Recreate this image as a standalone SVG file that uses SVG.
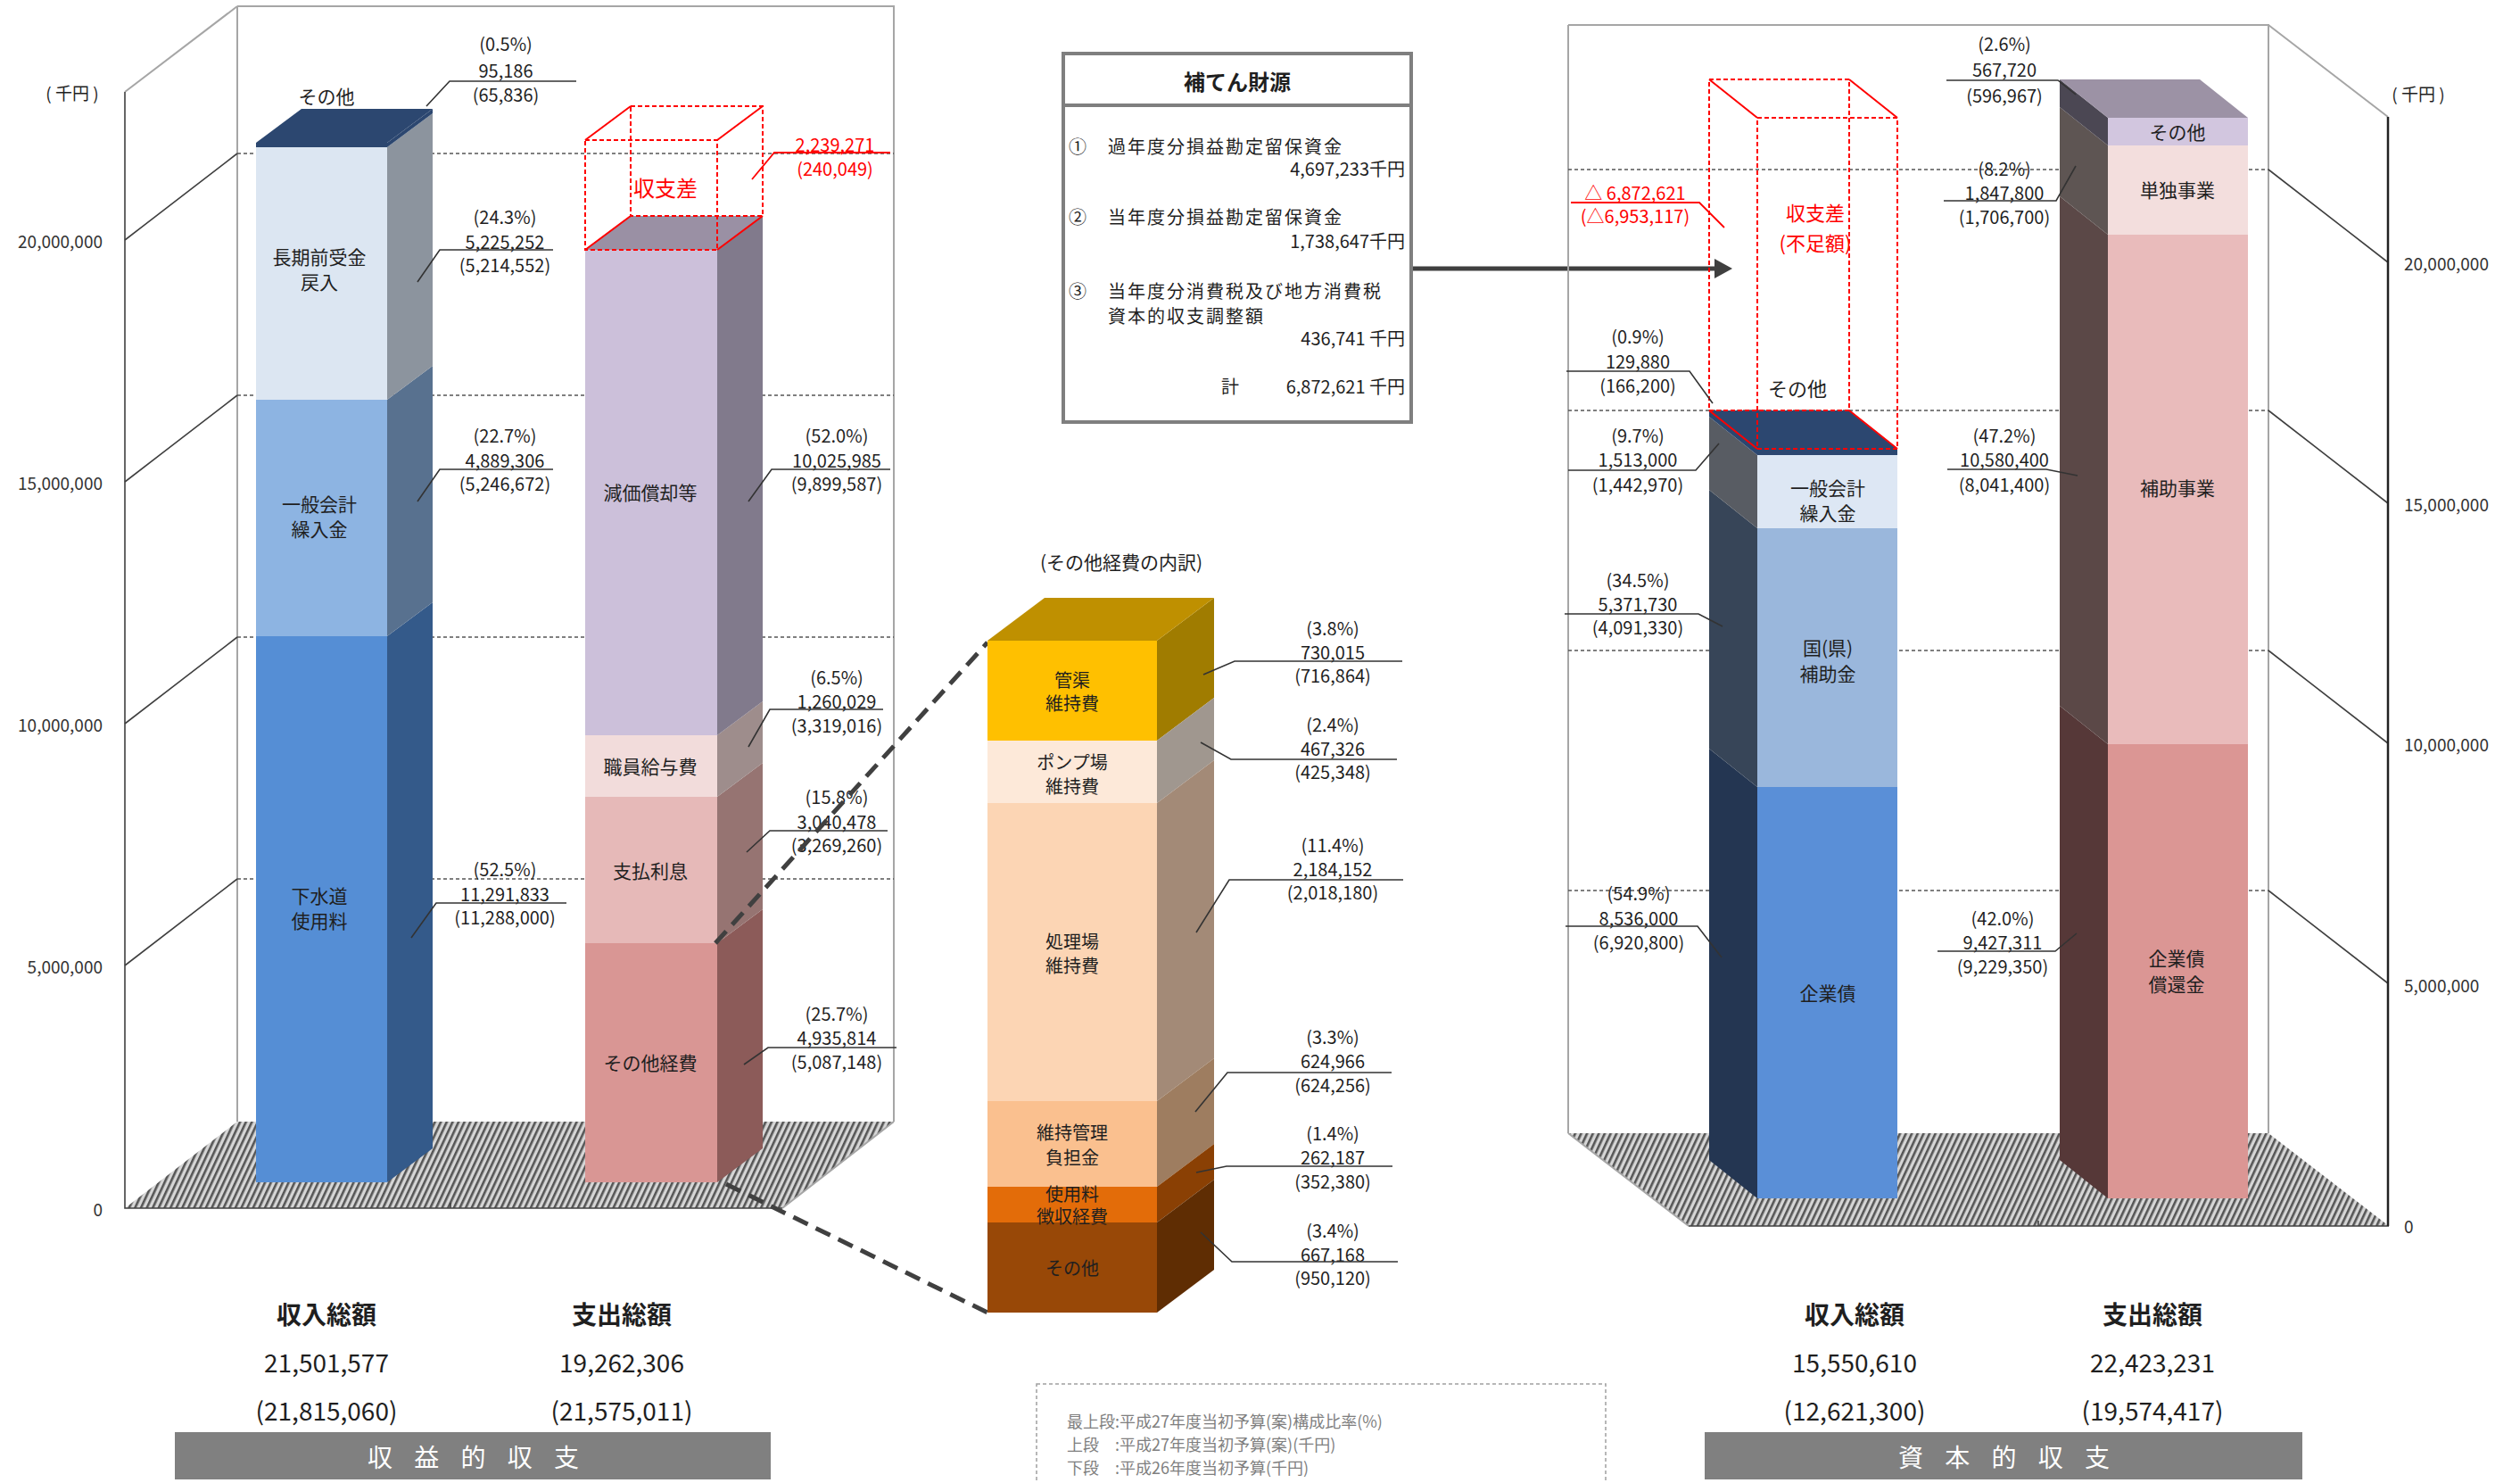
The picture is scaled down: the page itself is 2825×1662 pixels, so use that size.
<svg xmlns="http://www.w3.org/2000/svg" width="2825" height="1662" viewBox="0 0 2825 1662">
<style>
text{font-family:"Noto Sans CJK JP","Noto Sans",sans-serif;dominant-baseline:central;fill:#1f1f1f}
.c{font-size:20px;text-anchor:middle}
.lb{font-size:21px;text-anchor:middle}
.axl{font-size:19px;text-anchor:end;fill:#333}
.axr{font-size:19px;text-anchor:start;fill:#333}
.red{fill:#FF0000}
.ld{stroke:#333;stroke-width:1.6;fill:none}
.ldr{stroke:#FF0000;stroke-width:1.8;fill:none}
.grid{stroke:#555;stroke-width:1.6;stroke-dasharray:4 3;fill:none}
.wall{stroke:#A6A6A6;stroke-width:2;fill:none}
.axis{stroke:#404040;stroke-width:1.6;fill:none}
.rb{stroke:#FF0000;stroke-width:2;fill:none;stroke-dasharray:5 3}
.rs{stroke:#FF0000;stroke-width:2;fill:none}
.big{font-size:28px;text-anchor:middle}
.bx{font-size:20px;letter-spacing:2px}
.conn{stroke:#404040;stroke-width:5;stroke-dasharray:18 10;fill:none}
</style>
<defs>
<pattern id="hatch" width="6" height="6" patternUnits="userSpaceOnUse" patternTransform="rotate(25)">
<rect width="6" height="6" fill="#D6D6D6"/>
<rect width="2.6" height="6" fill="#555555"/>
</pattern>
<marker id="arr" markerUnits="userSpaceOnUse" markerWidth="22" markerHeight="22" viewBox="0 0 22 22" refX="0" refY="11" orient="auto">
<path d="M0,0 L20,11 L0,22 z" fill="#3F3F3F"/>
</marker>
</defs>
<rect width="2825" height="1662" fill="#FFFFFF"/>

<!-- LEFT CHART FRAME -->
<g id="left-frame">
<polygon points="266,1257 1002,1257 877,1354 140,1354" fill="url(#hatch)"/>
<path class="wall" d="M266,7 H1002 V1257 M266,7 V1257 M140,103 L266,7 M877,1354 L1002,1257"/>
<path class="axis" d="M140,103 V1354 H877 M505,1354 v-6"/>
<path class="grid" d="M266,172 H1002 M266,443 H1002 M266,714 H1002 M266,985 H1002"/>
<path class="axis" d="M140,269 L266,172 M140,540 L266,443 M140,811 L266,714 M140,1082 L266,985"/>
<text x="81" y="103" style="font-size:19px;text-anchor:middle">( 千円 )</text>
<text class="axl" x="115" y="269">20,000,000</text>
<text class="axl" x="115" y="540">15,000,000</text>
<text class="axl" x="115" y="811">10,000,000</text>
<text class="axl" x="115" y="1082">5,000,000</text>
<text class="axl" x="115" y="1354">0</text>
</g>

<!-- LEFT BAR 1 -->
<g id="bar-l-income">
<rect x="287" y="713" width="147" height="612" fill="#558ED5"/>
<polygon points="434,713 485,675 485,1287 434,1325" fill="#345A8A"/>
<rect x="287" y="448" width="147" height="265" fill="#8DB4E2"/>
<polygon points="434,448 485,410 485,675 434,713" fill="#58718F"/>
<rect x="287" y="165" width="147" height="283" fill="#DCE6F2"/>
<polygon points="434,165 485,127 485,410 434,448" fill="#8C949E"/>
<rect x="287" y="160" width="147" height="5" fill="#2C4770"/>
<polygon points="434,160 485,122 485,127 434,165" fill="#2C4770"/>
<polygon points="287,160 434,160 485,122 338,122" fill="#2C4770"/>
<text class="lb" x="366" y="107">その他</text>
<text class="lb" x="358" y="287">長期前受金</text>
<text class="lb" x="358" y="315">戻入</text>
<text class="lb" x="358" y="564">一般会計</text>
<text class="lb" x="358" y="592">繰入金</text>
<text class="lb" x="358" y="1003">下水道</text>
<text class="lb" x="358" y="1031">使用料</text>
</g>

<!-- LEFT BAR 2 -->
<g id="bar-l-expense">
<rect x="656" y="1057" width="148" height="268" fill="#D99694"/>
<polygon points="804,1057 855,1019 855,1287 804,1325" fill="#8C5B59"/>
<rect x="656" y="893" width="148" height="164" fill="#E6B9B8"/>
<polygon points="804,893 855,855 855,1019 804,1057" fill="#967472"/>
<rect x="656" y="824" width="148" height="69" fill="#F2DCDB"/>
<polygon points="804,824 855,786 855,855 804,893" fill="#9E8D8C"/>
<rect x="656" y="280" width="148" height="544" fill="#CCC0DA"/>
<polygon points="804,280 855,242 855,786 804,824" fill="#817A8C"/>
<polygon points="656,280 804,280 855,242 707,242" fill="#9A90A4"/>
<text class="lb" x="729" y="551">減価償却等</text>
<text class="lb" x="729" y="858">職員給与費</text>
<text class="lb" x="729" y="975">支払利息</text>
<text class="lb" x="729" y="1190">その他経費</text>
</g>
<g id="gap-l">
<path class="rb" d="M656,157 H804 V280 H656 Z M707,119 H855 V242 H707 Z"/>
<path class="rs" d="M656,157 L707,119 M804,157 L855,119 M656,280 L707,242 M804,280 L855,242"/>
<text x="746" y="209" style="font-size:24px;text-anchor:middle;fill:#FF0000">収支差</text>
</g>

<!-- LEFT CALLOUTS -->
<g id="co-l1-other"><text class="c" x="567" y="48">(0.5%)</text><text class="c" x="567" y="78">95,186</text><text class="c" x="567" y="105">(65,836)</text><polyline class="ld" points="478,119 504,91 646,91"/></g>
<g id="co-l1-long"><text class="c" x="566" y="242">(24.3%)</text><text class="c" x="566" y="270">5,225,252</text><text class="c" x="566" y="296">(5,214,552)</text><polyline class="ld" points="468,316 493,280 620,280"/></g>
<g id="co-l1-gen"><text class="c" x="566" y="487">(22.7%)</text><text class="c" x="566" y="515">4,889,306</text><text class="c" x="566" y="541">(5,246,672)</text><polyline class="ld" points="468,562 493,526 620,526"/></g>
<g id="co-l1-fee"><text class="c" x="566" y="973">(52.5%)</text><text class="c" x="566" y="1001">11,291,833</text><text class="c" x="566" y="1027">(11,288,000)</text><polyline class="ld" points="461,1051 489,1012 635,1012"/></g>
<g id="co-l2-dep"><text class="c" x="938" y="487">(52.0%)</text><text class="c" x="938" y="515">10,025,985</text><text class="c" x="938" y="541">(9,899,587)</text><polyline class="ld" points="839,562 865,526 998,526"/></g>
<g id="co-l2-sal"><text class="c" x="938" y="758">(6.5%)</text><text class="c" x="938" y="785">1,260,029</text><text class="c" x="938" y="812">(3,319,016)</text><polyline class="ld" points="839,837 863,795 990,795"/></g>
<g id="co-l2-int"><text class="c" x="938" y="892">(15.8%)</text><text class="c" x="938" y="920">3,040,478</text><text class="c" x="938" y="946">(3,269,260)</text><polyline class="ld" points="837,955 863,931 995,931"/></g>
<g id="co-l2-oth"><text class="c" x="938" y="1135">(25.7%)</text><text class="c" x="938" y="1162">4,935,814</text><text class="c" x="938" y="1189">(5,087,148)</text><polyline class="ld" points="834,1193 861,1174 1005,1174"/></g>
<g id="co-l2-gap"><text class="c red" x="936" y="161">2,239,271</text><text class="c red" x="936" y="188">(240,049)</text><polyline class="ldr" points="843,201 868,171 998,171"/></g>

<!-- CONNECTORS -->
<g id="connectors">
<line class="conn" x1="802" y1="1057" x2="1107" y2="720"/>
<line class="conn" x1="814" y1="1327" x2="1107" y2="1471"/>
<line x1="1582" y1="301" x2="1922" y2="301" stroke="#3F3F3F" stroke-width="5" marker-end="url(#arr)"/>
</g>

<!-- BREAKDOWN STACK -->
<g id="breakdown">
<text x="1257" y="629" style="font-size:21px;text-anchor:middle">(その他経費の内訳)</text>
<rect x="1107" y="718" width="190" height="112" fill="#FFC000"/>
<polygon points="1297,718 1361,670 1361,782 1297,830" fill="#A07C00"/>
<rect x="1107" y="830" width="190" height="70" fill="#FDE9D9"/>
<polygon points="1297,830 1361,782 1361,852 1297,900" fill="#A0978F"/>
<rect x="1107" y="900" width="190" height="334" fill="#FCD5B4"/>
<polygon points="1297,900 1361,852 1361,1186 1297,1234" fill="#A38A77"/>
<rect x="1107" y="1234" width="190" height="96" fill="#FAC08F"/>
<polygon points="1297,1234 1361,1186 1361,1282 1297,1330" fill="#9E7D60"/>
<rect x="1107" y="1330" width="190" height="40" fill="#E36C09"/>
<polygon points="1297,1330 1361,1282 1361,1322 1297,1370" fill="#8A4004"/>
<rect x="1107" y="1370" width="190" height="101" fill="#984807"/>
<polygon points="1297,1370 1361,1322 1361,1423 1297,1471" fill="#5F2D03"/>
<polygon points="1107,718 1297,718 1361,670 1171,670" fill="#BF9000"/>
<text class="lb" x="1202" y="761" style="font-size:20px">管渠</text>
<text class="lb" x="1202" y="787" style="font-size:20px">維持費</text>
<text class="lb" x="1202" y="853" style="font-size:20px">ポンプ場</text>
<text class="lb" x="1202" y="880" style="font-size:20px">維持費</text>
<text class="lb" x="1202" y="1054" style="font-size:20px">処理場</text>
<text class="lb" x="1202" y="1081" style="font-size:20px">維持費</text>
<text class="lb" x="1202" y="1268" style="font-size:20px">維持管理</text>
<text class="lb" x="1202" y="1296" style="font-size:20px">負担金</text>
<text class="lb" x="1202" y="1337" style="font-size:20px">使用料</text>
<text class="lb" x="1202" y="1362" style="font-size:20px">徴収経費</text>
<text class="lb" x="1202" y="1420" style="font-size:20px">その他</text>
</g>
<g id="co-c1"><text class="c" x="1494" y="703">(3.8%)</text><text class="c" x="1494" y="730">730,015</text><text class="c" x="1494" y="756">(716,864)</text><polyline class="ld" points="1349,756 1384,741 1572,741"/></g>
<g id="co-c2"><text class="c" x="1494" y="811">(2.4%)</text><text class="c" x="1494" y="838">467,326</text><text class="c" x="1494" y="864">(425,348)</text><polyline class="ld" points="1346,832 1380,851 1566,851"/></g>
<g id="co-c3"><text class="c" x="1494" y="946">(11.4%)</text><text class="c" x="1494" y="973">2,184,152</text><text class="c" x="1494" y="999">(2,018,180)</text><polyline class="ld" points="1341,1045 1378,986 1573,986"/></g>
<g id="co-c4"><text class="c" x="1494" y="1161">(3.3%)</text><text class="c" x="1494" y="1188">624,966</text><text class="c" x="1494" y="1215">(624,256)</text><polyline class="ld" points="1340,1246 1376,1202 1560,1202"/></g>
<g id="co-c5"><text class="c" x="1494" y="1269">(1.4%)</text><text class="c" x="1494" y="1296">262,187</text><text class="c" x="1494" y="1323">(352,380)</text><polyline class="ld" points="1341,1314 1375,1307 1561,1307"/></g>
<g id="co-c6"><text class="c" x="1494" y="1378">(3.4%)</text><text class="c" x="1494" y="1405">667,168</text><text class="c" x="1494" y="1431">(950,120)</text><polyline class="ld" points="1346,1381 1381,1414 1567,1414"/></g>

<!-- SOURCE BOX -->
<g id="source-box">
<rect x="1192" y="60" width="390" height="413" fill="#FFFFFF" stroke="#7F7F7F" stroke-width="4"/>
<line x1="1192" y1="118" x2="1582" y2="118" stroke="#7F7F7F" stroke-width="4"/>
<text x="1387" y="90" style="font-size:24px;font-weight:bold;text-anchor:middle">補てん財源</text>
<text class="bx" x="1198" y="163">①</text>
<text class="bx" x="1242" y="163">過年度分損益勘定留保資金</text>
<text class="bx" x="1575" y="188" style="text-anchor:end;letter-spacing:0">4,697,233千円</text>
<text class="bx" x="1198" y="242">②</text>
<text class="bx" x="1242" y="242">当年度分損益勘定留保資金</text>
<text class="bx" x="1575" y="269" style="text-anchor:end;letter-spacing:0">1,738,647千円</text>
<text class="bx" x="1198" y="325">③</text>
<text class="bx" x="1242" y="325">当年度分消費税及び地方消費税</text>
<text class="bx" x="1242" y="353">資本的収支調整額</text>
<text class="bx" x="1575" y="378" style="text-anchor:end;letter-spacing:0">436,741 千円</text>
<text class="bx" x="1380" y="432" style="text-anchor:middle">計</text>
<text class="bx" x="1575" y="432" style="text-anchor:end;letter-spacing:0">6,872,621 千円</text>
</g>

<!-- RIGHT CHART FRAME -->
<g id="right-frame">
<polygon points="1758,1270 2543,1270 2678,1374 1893,1374" fill="url(#hatch)"/>
<path class="wall" d="M1758,28 H2543 V1270 M1758,28 V1270 M2543,28 L2677,131 M1758,1270 L1893,1374"/>
<path class="grid" d="M1758,190 H2543 M1758,460 H2543 M1758,729 H2543 M1758,998 H2543"/>
<path class="axis" d="M2543,190 L2677,294 M2543,460 L2677,564 M2543,729 L2677,833 M2543,998 L2677,1102 M1893,1374 H2678 M2285,1374 v-6"/>
<line x1="2677" y1="131" x2="2677" y2="1374" stroke="#222" stroke-width="2.5"/>
<text x="2711" y="104" style="font-size:19px;text-anchor:middle">( 千円 )</text>
<text class="axr" x="2695" y="294">20,000,000</text>
<text class="axr" x="2695" y="564">15,000,000</text>
<text class="axr" x="2695" y="833">10,000,000</text>
<text class="axr" x="2695" y="1103">5,000,000</text>
<text class="axr" x="2695" y="1373">0</text>
</g>

<!-- RIGHT BAR 3 -->
<g id="bar-r-income">
<rect x="1970" y="882" width="157" height="461" fill="#5A8FD7"/>
<polygon points="1970,882 1916,839 1916,1300 1970,1343" fill="#243652"/>
<rect x="1970" y="592" width="157" height="290" fill="#9AB7DC"/>
<polygon points="1970,592 1916,549 1916,839 1970,882" fill="#374558"/>
<rect x="1970" y="510" width="157" height="82" fill="#DDE7F4"/>
<polygon points="1970,510 1916,467 1916,549 1970,592" fill="#585C63"/>
<rect x="1970" y="503" width="157" height="7" fill="#2C4770"/>
<polygon points="1970,503 1916,460 1916,467 1970,510" fill="#2C4770"/>
<polygon points="1970,503 2127,503 2073,460 1916,460" fill="#2C4770"/>
<text class="lb" x="2015" y="434" style="font-size:22px">その他</text>
<text class="lb" x="2049" y="546">一般会計</text>
<text class="lb" x="2049" y="574">繰入金</text>
<text class="lb" x="2049" y="725">国(県)</text>
<text class="lb" x="2049" y="754">補助金</text>
<text class="lb" x="2049" y="1112">企業債</text>
</g>
<g id="gap-r">
<path class="rb" d="M1970,132 H2127 V503 H1970 Z M1916,89 H2073 V460 H1916 Z"/>
<path class="rs" d="M1916,89 L1970,132 M2073,89 L2127,132 M1916,460 L1970,503 M2073,460 L2127,503"/>
<text x="2035" y="237" style="font-size:22px;text-anchor:middle;fill:#FF0000">収支差</text>
<text x="2035" y="271" style="font-size:22px;text-anchor:middle;fill:#FF0000">(不足額)</text>
</g>

<!-- RIGHT BAR 4 -->
<g id="bar-r-expense">
<rect x="2363" y="834" width="157" height="509" fill="#DB9694"/>
<polygon points="2363,834 2309,791 2309,1300 2363,1343" fill="#563838"/>
<rect x="2363" y="263" width="157" height="571" fill="#E9BBBB"/>
<polygon points="2363,263 2309,220 2309,791 2363,834" fill="#5B4847"/>
<rect x="2363" y="163" width="157" height="100" fill="#F3DEDD"/>
<polygon points="2363,163 2309,120 2309,220 2363,263" fill="#5E5553"/>
<rect x="2363" y="132" width="157" height="31" fill="#D2C6DF"/>
<polygon points="2363,132 2309,89 2309,120 2363,163" fill="#4B4753"/>
<polygon points="2363,132 2520,132 2466,89 2309,89" fill="#9C92A5"/>
<text class="lb" x="2441" y="147">その他</text>
<text class="lb" x="2441" y="212">単独事業</text>
<text class="lb" x="2441" y="546">補助事業</text>
<text class="lb" x="2440" y="1073">企業債</text>
<text class="lb" x="2440" y="1102">償還金</text>
</g>

<!-- RIGHT CALLOUTS -->
<g id="co-r3-other"><text class="c" x="1836" y="376">(0.9%)</text><text class="c" x="1836" y="404">129,880</text><text class="c" x="1836" y="431">(166,200)</text><polyline class="ld" points="1756,416 1894,416 1920,452"/></g>
<g id="co-r3-gen"><text class="c" x="1836" y="487">(9.7%)</text><text class="c" x="1836" y="514">1,513,000</text><text class="c" x="1836" y="542">(1,442,970)</text><polyline class="ld" points="1758,527 1901,527 1927,497"/></g>
<g id="co-r3-sub"><text class="c" x="1836" y="649">(34.5%)</text><text class="c" x="1836" y="676">5,371,730</text><text class="c" x="1836" y="702">(4,091,330)</text><polyline class="ld" points="1754,688 1904,688 1931,702"/></g>
<g id="co-r3-bond"><text class="c" x="1837" y="1000">(54.9%)</text><text class="c" x="1837" y="1028">8,536,000</text><text class="c" x="1837" y="1055">(6,920,800)</text><polyline class="ld" points="1755,1038 1903,1038 1930,1073"/></g>
<g id="co-r3-gap"><text class="c red" x="1833" y="215">△ 6,872,621</text><text class="c red" x="1833" y="241">(△6,953,117)</text><polyline class="ldr" points="1761,227 1905,227 1933,255"/></g>
<g id="co-r4-other"><text class="c" x="2247" y="48">(2.6%)</text><text class="c" x="2247" y="77">567,720</text><text class="c" x="2247" y="106">(596,967)</text><polyline class="ld" points="2182,90 2307,90 2327,106"/></g>
<g id="co-r4-ind"><text class="c" x="2247" y="188">(8.2%)</text><text class="c" x="2247" y="215">1,847,800</text><text class="c" x="2247" y="242">(1,706,700)</text><polyline class="ld" points="2179,225 2305,225 2327,186"/></g>
<g id="co-r4-sub"><text class="c" x="2247" y="487">(47.2%)</text><text class="c" x="2247" y="514">10,580,400</text><text class="c" x="2247" y="542">(8,041,400)</text><polyline class="ld" points="2183,526 2294,526 2329,533"/></g>
<g id="co-r4-bond"><text class="c" x="2245" y="1028">(42.0%)</text><text class="c" x="2245" y="1055">9,427,311</text><text class="c" x="2245" y="1082">(9,229,350)</text><polyline class="ld" points="2172,1066 2304,1066 2328,1046"/></g>

<!-- TOTALS -->
<g id="totals-left">
<text class="big" x="366" y="1472" style="font-weight:bold">収入総額</text>
<text class="big" x="697" y="1472" style="font-weight:bold">支出総額</text>
<text class="big" x="366" y="1526">21,501,577</text>
<text class="big" x="697" y="1526">19,262,306</text>
<text class="big" x="366" y="1580">(21,815,060)</text>
<text class="big" x="697" y="1580">(21,575,011)</text>
<rect x="196" y="1605" width="668" height="53" fill="#808080"/>
<text x="535" y="1632" style="font-size:28px;text-anchor:middle;fill:#FFFFFF;letter-spacing:9px">収 益 的 収 支</text>
</g>
<g id="totals-right">
<text class="big" x="2079" y="1472" style="font-weight:bold">収入総額</text>
<text class="big" x="2413" y="1472" style="font-weight:bold">支出総額</text>
<text class="big" x="2079" y="1526">15,550,610</text>
<text class="big" x="2413" y="1526">22,423,231</text>
<text class="big" x="2079" y="1580">(12,621,300)</text>
<text class="big" x="2413" y="1580">(19,574,417)</text>
<rect x="1911" y="1605" width="670" height="53" fill="#808080"/>
<text x="2251" y="1632" style="font-size:28px;text-anchor:middle;fill:#FFFFFF;letter-spacing:9px">資 本 的 収 支</text>
</g>

<!-- LEGEND -->
<g id="legend">
<rect x="1162" y="1551" width="638" height="130" fill="none" stroke="#A0A0A0" stroke-width="1.5" stroke-dasharray="4 3"/>
<text x="1196" y="1592" style="font-size:18px;fill:#7F7F7F">最上段:平成27年度当初予算(案)構成比率(%)</text>
<text x="1196" y="1618" style="font-size:18px;fill:#7F7F7F">上段　:平成27年度当初予算(案)(千円)</text>
<text x="1196" y="1644" style="font-size:18px;fill:#7F7F7F">下段　:平成26年度当初予算(千円)</text>
</g>
</svg>
